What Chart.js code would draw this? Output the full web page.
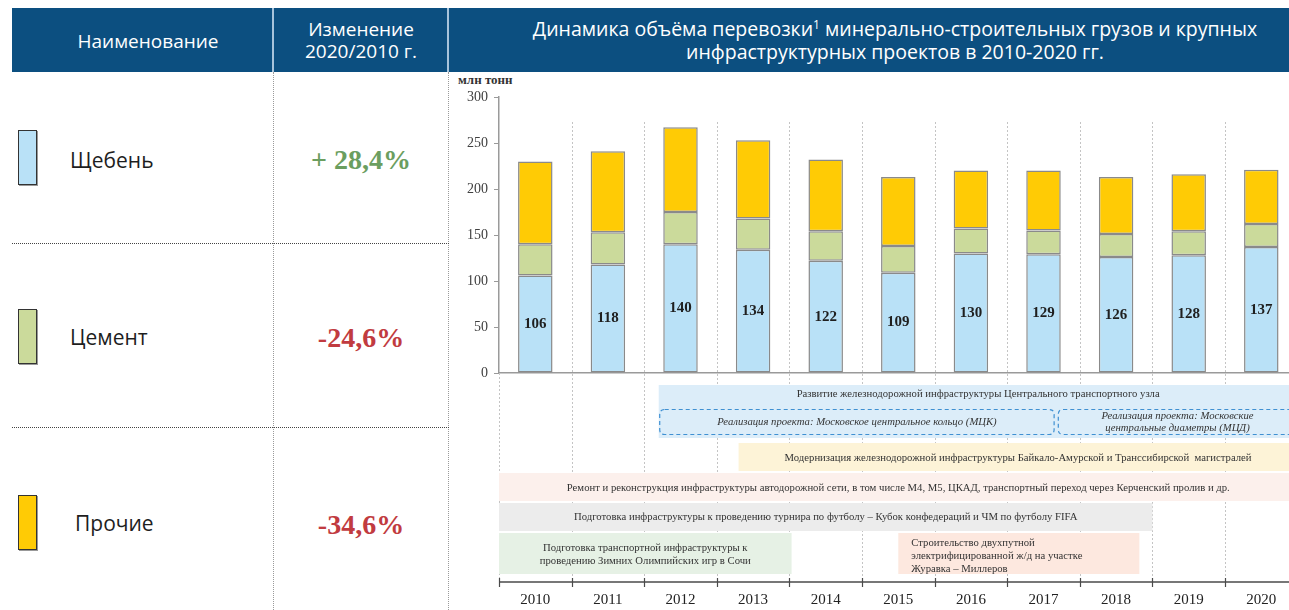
<!DOCTYPE html>
<html lang="ru">
<head>
<meta charset="utf-8">
<title>Минерально-строительные грузы 2010-2020</title>
<script src="https://cdn.jsdelivr.net/npm/chart.js@4.4.1/dist/chart.umd.min.js"></script>
<style>
  html, body { margin: 0; padding: 0; background: #fff; }
  #page { position: relative; width: 1289px; height: 610px; overflow: hidden; font-family: "Open Sans", "Noto Sans", sans-serif; }
  .head { position: absolute; top: 8px; height: 64px; left: 12px; width: 1290px; background: #0c4f80; }
  .hsep { position: absolute; top: 8px; height: 64px; width: 2px; background: #a8c4dc; }
  .htxt { position: absolute; color: #fff; text-align: center; font-size: 19px; line-height: 22px; }
  .vdot { position: absolute; top: 72px; height: 538px; width: 0; border-left: 1px dotted #9a9a9a; }
  .hdot { position: absolute; left: 12px; width: 437px; height: 0; border-top: 1px dotted #444; }
  .swatch { position: absolute; left: 18px; width: 17px; height: 53px; border: 1px solid #333; box-shadow: 1px 1px 0 #999; }
  .name { position: absolute; font-size: 21px; line-height: 28px; color: #1e1e1e; }
  .pct { position: absolute; left: 275px; width: 172px; text-align: center; font-family: "Liberation Serif", serif; font-weight: bold; font-size: 28px; line-height: 30px; }
  #unit { position: absolute; left: 458px; top: 72px; font-family: "Liberation Serif", serif; font-weight: bold; font-size: 13px; color: #333; }
  #chartBox { position: absolute; left: 449px; top: 72px; width: 860px; height: 538px; }
</style>
</head>
<body>
<div id="page">
  <div class="head"></div>
  <div class="hsep" style="left:272px"></div>
  <div class="hsep" style="left:447px"></div>
  <div class="htxt" style="left:18px; width:260px; top:30px;">Наименование</div>
  <div class="htxt" style="left:275px; width:172px; top:18px;">Изменение<br>2020/2010 г.</div>
  <div class="htxt" style="left:480px; width:830px; top:17px; font-size:19.5px; line-height:23px;">Динамика объёма перевозки<sup style="font-size:12px; line-height:0;">1</sup> минерально-строительных грузов и крупных<br>инфраструктурных проектов в 2010-2020 гг.</div>

  <div class="vdot" style="left:273px"></div>
  <div class="vdot" style="left:448px"></div>
  <div class="hdot" style="top:243px"></div>
  <div class="hdot" style="top:427px"></div>

  <div class="swatch" style="top:130px; background:#b9e1f7"></div>
  <div class="name" style="left:70px; top:146px">Щебень</div>
  <div class="pct" style="top:145px; color:#6b9e5f">+ 28,4%</div>

  <div class="swatch" style="top:309px; background:#cbda9b"></div>
  <div class="name" style="left:70px; top:323px">Цемент</div>
  <div class="pct" style="top:323px; color:#c13b40">-24,6%</div>

  <div class="swatch" style="top:495px; background:#ffcb05"></div>
  <div class="name" style="left:75px; top:509px">Прочие</div>
  <div class="pct" style="top:510px; color:#c13b40">-34,6%</div>

  <div id="unit">млн тонн</div>
  <div id="chartBox"><canvas id="cargo" width="860" height="538"></canvas></div>
</div>

<script>
// перевозка, млн тонн
var years = ['2010', '2011', '2012', '2013', '2014', '2015', '2016', '2017', '2018', '2019', '2020'];
var crushedStone = [106, 118, 140, 134, 122, 109, 130, 129, 126, 128, 137];
var cement = [34, 35, 35, 34, 32, 29, 27, 26, 25, 26, 25];
var otherCargo = [90, 88, 92, 85, 78, 75, 63, 65, 62, 62, 59];
var yTicks = [0, 50, 100, 150, 200, 250, 300];

// инфраструктурные проекты: начало и конец в долях года
var projectNames = [
    'Развитие железнодорожной инфраструктуры Центрального транспортного узла',
    'Реализация проекта: Московское центральное кольцо (МЦК)',
    'Реализация проекта: Московские\nцентральные диаметры (МЦД)',
    'Модернизация железнодорожной инфраструктуры Байкало-Амурской и Транссибирской  магистралей',
    'Ремонт и реконструкция инфраструктуры автодорожной сети, в том числе М4, М5, ЦКАД, транспортный переход через Керченский пролив и др.',
    'Подготовка инфраструктуры к проведению турнира по футболу – Кубок конфедераций и ЧМ по футболу FIFA',
    'Подготовка транспортной инфраструктуры к\nпроведению Зимних Олимпийских игр в Сочи',
    'Строительство двухпутной\nэлектрифицированной ж/д на участке\nЖуравка – Миллеров'
];
var projectStart = [2012.2, 2012.2, 2017.69, 2013.3, 2010, 2010, 2010, 2015.5];
var projectEnd = [2021, 2017.66, 2021, 2021, 2021, 2019, 2014.03, 2018.82];

// оформление полос (отступы от оси x, px)
var bandStyle = [
    { top: 12, h: 53, fill: '#dcedf9', text: [21] },
    { top: 36, h: 25, fill: null, dash: true, italic: true, text: [49] },
    { top: 36, h: 25, fill: null, dash: true, italic: true, text: [43, 55] },
    { top: 70, h: 28, fill: '#fdf3d7', text: [85] },
    { top: 100, h: 28, fill: '#fcf0ec', text: [115] },
    { top: 130, h: 28, fill: '#ececec', text: [144] },
    { top: 160, h: 41, fill: '#e6f1e5', text: [175, 188] },
    { top: 160, h: 41, fill: '#fde8df', left: 13, text: [170, 183, 196] }
];

var serif = '"Liberation Serif", "Times New Roman", serif';

function yearToPixel(xScale, t) {
    var step = xScale.getPixelForValue(1) - xScale.getPixelForValue(0);
    var left = xScale.getPixelForValue(0) - step / 2;
    return left + (t - Number(years[0])) * step;
}

function roundRect(ctx, x, y, w, h, r) {
    ctx.beginPath();
    ctx.moveTo(x + r, y);
    ctx.lineTo(x + w - r, y);
    ctx.quadraticCurveTo(x + w, y, x + w, y + r);
    ctx.lineTo(x + w, y + h - r);
    ctx.quadraticCurveTo(x + w, y + h, x + w - r, y + h);
    ctx.lineTo(x + r, y + h);
    ctx.quadraticCurveTo(x, y + h, x, y + h - r);
    ctx.lineTo(x, y + r);
    ctx.quadraticCurveTo(x, y, x + r, y);
    ctx.closePath();
}

// разделители лет, полосы проектов и нижняя ось с годами
var projectsPlugin = {
    id: 'projects',
    beforeDatasetsDraw: function (chart) {
        var ctx = chart.ctx;
        var xs = chart.scales.x;
        var area = chart.chartArea;
        var base = area.bottom;
        var step = xs.getPixelForValue(1) - xs.getPixelForValue(0);

        ctx.save();
        // пунктирные границы лет
        ctx.strokeStyle = '#c4c4c4';
        ctx.lineWidth = 1;
        ctx.setLineDash([2, 2]);
        for (var i = 0; i <= years.length; i++) {
            var gx = Math.round(xs.getPixelForValue(0) - step / 2 + i * step) + 0.5;
            ctx.beginPath();
            ctx.moveTo(gx, i === 0 ? base : area.top + 25);
            ctx.lineTo(gx, base + 205);
            ctx.stroke();
        }
        ctx.setLineDash([]);

        // полосы проектов
        for (var p = 0; p < projectNames.length; p++) {
            var st = bandStyle[p];
            var x0 = yearToPixel(xs, projectStart[p]);
            var x1 = yearToPixel(xs, projectEnd[p]);
            var y0 = base + st.top;
            if (st.fill) {
                ctx.fillStyle = st.fill;
                ctx.fillRect(x0, y0, x1 - x0, st.h);
            }
            if (st.dash) {
                ctx.strokeStyle = '#3f90d2';
                ctx.lineWidth = 1.2;
                ctx.setLineDash([4, 3]);
                roundRect(ctx, x0 + 1, y0 + 0.5, x1 - x0 - 2, st.h, 5);
                ctx.stroke();
                ctx.setLineDash([]);
            }
            var lines = projectNames[p].split('\n');
            ctx.fillStyle = '#333';
            ctx.font = (st.italic ? 'italic ' : '') + '10.7px ' + serif;
            ctx.textBaseline = 'middle';
            for (var k = 0; k < lines.length; k++) {
                if (st.left) {
                    ctx.textAlign = 'left';
                    ctx.fillText(lines[k], x0 + st.left, base + st.text[k]);
                } else {
                    ctx.textAlign = 'center';
                    ctx.fillText(lines[k], (x0 + x1) / 2, base + st.text[k]);
                }
            }
        }

        // нижняя шкала годов
        var axisY = base + 209;
        ctx.strokeStyle = '#4a4a4a';
        ctx.lineWidth = 1.5;
        ctx.beginPath();
        ctx.moveTo(area.left, axisY);
        ctx.lineTo(area.right, axisY);
        ctx.stroke();
        ctx.lineWidth = 1.2;
        for (var j = 0; j <= years.length; j++) {
            var tx = Math.round(xs.getPixelForValue(0) - step / 2 + j * step) + 0.5;
            ctx.beginPath();
            ctx.moveTo(tx, axisY - 4);
            ctx.lineTo(tx, axisY + 5);
            ctx.stroke();
        }
        ctx.fillStyle = '#222';
        ctx.font = '15px ' + serif;
        ctx.textAlign = 'center';
        ctx.textBaseline = 'middle';
        years.forEach(function (y, idx) {
            ctx.fillText(y, xs.getPixelForValue(idx), base + 227);
        });
        ctx.restore();
    }
};

// подписи значений щебня в середине столбика
var valueLabels = {
    id: 'valueLabels',
    afterDatasetsDraw: function (chart) {
        var ctx = chart.ctx;
        var meta = chart.getDatasetMeta(0);
        ctx.save();
        ctx.fillStyle = '#1f1f1f';
        ctx.font = 'bold 15px ' + serif;
        ctx.textAlign = 'center';
        ctx.textBaseline = 'middle';
        meta.data.forEach(function (bar, i) {
            ctx.fillText(String(crushedStone[i]), bar.x, (bar.y + bar.base) / 2);
        });
        ctx.restore();
    }
};

var barBorder = '#8a8a8a';
var ctx = document.getElementById('cargo').getContext('2d');
var cargoChart = new Chart(ctx, {
    type: 'bar',
    data: {
        labels: years,
        datasets: [{
            label: 'Щебень',
            data: crushedStone,
            backgroundColor: '#b9e1f7',
            borderColor: barBorder,
            borderWidth: 1.5,
            borderSkipped: false
        }, {
            label: 'Цемент',
            data: cement,
            backgroundColor: '#cbda9b',
            borderColor: barBorder,
            borderWidth: 1.5,
            borderSkipped: false
        }, {
            label: 'Прочие',
            data: otherCargo,
            backgroundColor: '#ffcb05',
            borderColor: barBorder,
            borderWidth: 1.5,
            borderSkipped: false
        }]
    },
    options: {
        responsive: false,
        animation: false,
        events: [],
        layout: { padding: { top: 25, left: 0, right: 11.4, bottom: 237 } },
        datasets: { bar: { barPercentage: 0.475, categoryPercentage: 1 } },
        plugins: { legend: { display: false }, tooltip: { enabled: false } },
        scales: {
            x: {
                stacked: true,
                grid: { display: false },
                ticks: { display: false },
                border: { display: true, color: '#9a9a9a', width: 1.5 },
                afterFit: function (s) { s.height = 0; }
            },
            y: {
                stacked: true,
                min: yTicks[0],
                max: yTicks[yTicks.length - 1],
                afterBuildTicks: function (s) {
                    s.ticks = yTicks.map(function (v) { return { value: v }; });
                },
                afterFit: function (s) { s.width = 50; },
                grid: { drawOnChartArea: false, tickLength: 5, color: '#9a9a9a', lineWidth: 1 },
                border: { display: true, color: '#9a9a9a', width: 1.5 },
                ticks: { padding: 6, color: '#404040', font: { family: serif, size: 14 } }
            }
        }
    },
    plugins: [projectsPlugin, valueLabels]
});
</script>
</body>
</html>
